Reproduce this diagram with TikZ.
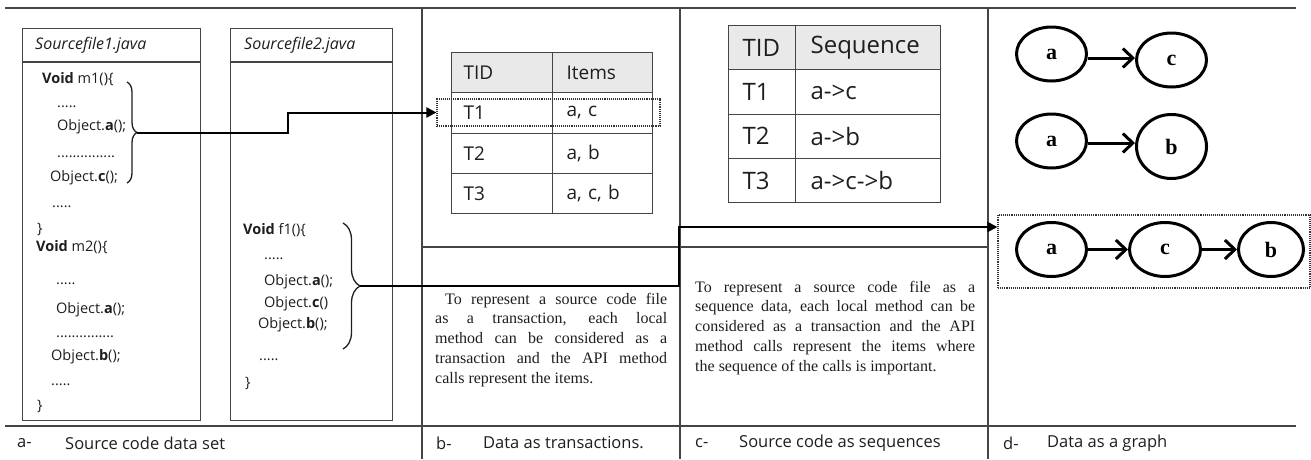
\documentclass[tikz,border=0pt]{standalone}
\usepackage{fontspec}
\setmainfont{Open Sans}
\newfontfamily\serifnew{Liberation Serif}
\usetikzlibrary{arrows.meta,shapes.geometric,decorations.pathreplacing}
\definecolor{ln}{HTML}{454545}
\definecolor{tx}{HTML}{1E1E1E}
\definecolor{hd}{HTML}{E9E9E9}
\tikzset{
  frame/.style={draw=ln, line width=1.2pt},
  srcbox/.style={draw=ln, line width=1.2pt, anchor=north west, inner sep=0pt},
  hdr/.style={anchor=west, inner sep=0pt, text=tx, font=\fontsize{16}{19}\selectfont\itshape},
  code/.style={anchor=base west, inner sep=0pt, text=tx, font=\fontsize{14.5}{17}\selectfont},
  bracestyle/.style={draw=tx, line width=1.3pt, decorate},
  conn/.style={draw=black, line width=2pt, -{Triangle[length=10pt,width=10pt]}},
  dotbox/.style={draw=black!80, line width=1.1pt, densely dotted, inner sep=0pt},
  cellb/.style={draw=ln, line width=1.2pt, anchor=north west, minimum height=40.25pt,
    text=tx, align=left, font=\fontsize{19}{22}\selectfont},
  cbA/.style={cellb, inner xsep=12pt, text width=77pt},
  cbB/.style={cellb, inner xsep=14pt, text width=72pt},
  cellc/.style={draw=ln, line width=1.2pt, anchor=north west, minimum height=44.25pt,
    text=tx, align=left, font=\fontsize{24}{28}\selectfont},
  ccA/.style={cellc, inner xsep=14pt, text width=39pt},
  ccB/.style={cellc, inner xsep=15pt, text width=115pt},
  para/.style={anchor=base west, inner sep=0pt, align=justify, text=tx,
    font=\serifnew\fontsize{16}{19.8}\selectfont},
  caplabel/.style={anchor=west, inner sep=0pt, text=tx, font=\fontsize{16.5}{19}\selectfont},
  gnode/.style={ellipse, draw=black, line width=3pt, inner sep=0pt,
    font=\serifnew\bfseries\fontsize{22}{24}\selectfont},
  garrow/.style={draw=black, line width=3pt, -{Straight Barb[length=10pt,width=19pt,line width=3pt]}}
}
\begin{document}
\begin{tikzpicture}[x=1pt,y=-1pt]
\useasboundingbox (0,0) rectangle (1311,459);

% frame of the four panels
\draw[frame] (5,8) -- (1296,8);
\draw[frame] (5,426) -- (1296,426);
\draw[frame] (422,8) -- (422,459);
\draw[frame] (680,8) -- (680,459);
\draw[frame] (988,8) -- (988,459);
\draw[frame] (422,247) -- (988,247);

% ---------- a: source files ----------
\node[srcbox, minimum width=178pt, minimum height=392pt] (sf1) at (22,28) {};
\draw[frame] (22,62) -- (200,62);
\node[srcbox, minimum width=162pt, minimum height=392pt] (sf2) at (230,28) {};
\draw[frame] (230,62) -- (392,62);
\node[hdr] (h1) at (35,45) {Sourcefile1.java};
\node[hdr] (h2) at (244,45) {Sourcefile2.java};

\node[code] (l1) at (42,83) {\textbf{Void} m1()\{};
\node[code] (l2) at (57,107) {.....};
\node[code] (l3) at (57,130) {Object.\textbf{a}();};
\node[code] (l4) at (57,157) {...............};
\node[code] (l5) at (50,181) {Object.\textbf{c}();};
\node[code] (l6) at (52,207) {.....};
\node[code] (l7) at (37,233) {\}};
\node[code] (l8) at (36,251) {\textbf{Void} m2()\{};
\node[code] (l9) at (56,284) {.....};
\node[code] (l10) at (56,313) {Object.\textbf{a}();};
\node[code] (l11) at (56,337) {...............};
\node[code] (l12) at (51,360) {Object.\textbf{b}();};
\node[code] (l13) at (51,385) {.....};
\node[code] (l14) at (37,410) {\}};

\node[code] (f1) at (243,234) {\textbf{Void} f1()\{};
\node[code] (f2) at (264,259) {.....};
\node[code] (f3) at (264,285) {Object.\textbf{a}();};
\node[code] (f4) at (264,307) {Object.\textbf{c}()};
\node[code] (f5) at (258,328) {Object.\textbf{b}();};
\node[code] (f6) at (259,360) {.....};
\node[code] (f7) at (245,387) {\}};

\draw[bracestyle, decoration={brace, amplitude=10pt}] (127,82) -- (127,183);
\coordinate (b1tip) at (137,132.5);
\draw[bracestyle, decoration={brace, amplitude=17pt}] (343,223) -- (343,349);
\coordinate (b2tip) at (360,286);

% ---------- b: transactions ----------
\node[cbA, fill=hd] (tb11) at (451,52) {TID};
\node[cbB, fill=hd] (tb12) at (552,52) {Items};
\node[cbA] (tb21) at (451,92.25) {T1};
\node[cbB] (tb22) at (552,92.25) {a, c};
\node[cbA] (tb31) at (451,132.5) {T2};
\node[cbB] (tb32) at (552,132.5) {a, b};
\node[cbA] (tb41) at (451,172.75) {T3};
\node[cbB] (tb42) at (552,172.75) {a, c, b};
\node[dotbox, minimum width=223pt, minimum height=27pt] (t1box) at (548.5,112.5) {};

\node[para, text width=232pt] (pb) at (435,304)
 {\hspace*{10pt}To represent a source code file\linebreak
  as a transaction, each local\linebreak
  method can be considered as a\linebreak
  transaction and the API method\linebreak
  calls represent the items.};

% ---------- c: sequences ----------
\node[ccA, fill=hd] (tc11) at (728,25) {TID};
\node[ccB, fill=hd] (tc12) at (795,25) {Sequence};
\node[ccA] (tc21) at (728,69.25) {T1};
\node[ccB] (tc22) at (795,69.25) {a->c};
\node[ccA] (tc31) at (728,113.5) {T2};
\node[ccB] (tc32) at (795,113.5) {a->b};
\node[ccA] (tc41) at (728,157.75) {T3};
\node[ccB] (tc42) at (795,157.75) {a->c->b};

\node[para, text width=280pt] (pc) at (695,292)
 {To represent a source code file as a\linebreak
  sequence data, each local method can be\linebreak
  considered as a transaction and the API\linebreak
  method calls represent the items where\linebreak
  the sequence of the calls is important.};

% ---------- d: graphs ----------
\node[gnode, minimum width=70pt, minimum height=54pt] (a1) at (1051.5,54) {a};
\node[gnode, minimum width=70pt, minimum height=54pt] (c1) at (1171.5,60) {c};
\node[gnode, minimum width=70pt, minimum height=54pt] (a2) at (1051.5,141) {a};
\node[gnode, minimum width=70pt, minimum height=64pt] (b2) at (1171.5,146.5) {b};
\node[dotbox, minimum width=312pt, minimum height=73pt] (g3box) at (1154,251.5) {};
\node[gnode, minimum width=70pt, minimum height=54pt] (a3) at (1051.5,249.5) {a};
\node[gnode, minimum width=71pt, minimum height=54pt] (c3) at (1165,249.5) {c};
\node[gnode, minimum width=65pt, minimum height=54pt] (b3) at (1271,249.5) {b};
\coordinate (y58) at (0,58);
\coordinate (y143) at (0,143);
\draw[garrow] (a1.east |- y58) -- (c1.west |- y58);
\draw[garrow] (a2.east |- y143) -- (b2.west |- y143);
\draw[garrow] (a3) -- (c3);
\draw[garrow] (c3) -- (b3);

% ---------- connectors ----------
\coordinate (y227) at (0,227);
\draw[conn] (b1tip) -- (288,132.5) |- (t1box.west);
\draw[conn] (b2tip) -- (679,286) |- (g3box.west |- y227);

% ---------- captions ----------
\node[caplabel] (ca1) at (17,443) {a-};
\node[caplabel] (ca2) at (65,443) {Source code data set};
\node[caplabel] (cb1) at (436,443) {b-};
\node[caplabel] (cb2) at (483,443) {Data as transactions.};
\node[caplabel] (cc1) at (695,443) {c-};
\node[caplabel] (cc2) at (739,443) {Source code as sequences};
\node[caplabel] (cd1) at (1003,443) {d-};
\node[caplabel] (cd2) at (1047,443) {Data as a graph};
\end{tikzpicture}
\end{document}
